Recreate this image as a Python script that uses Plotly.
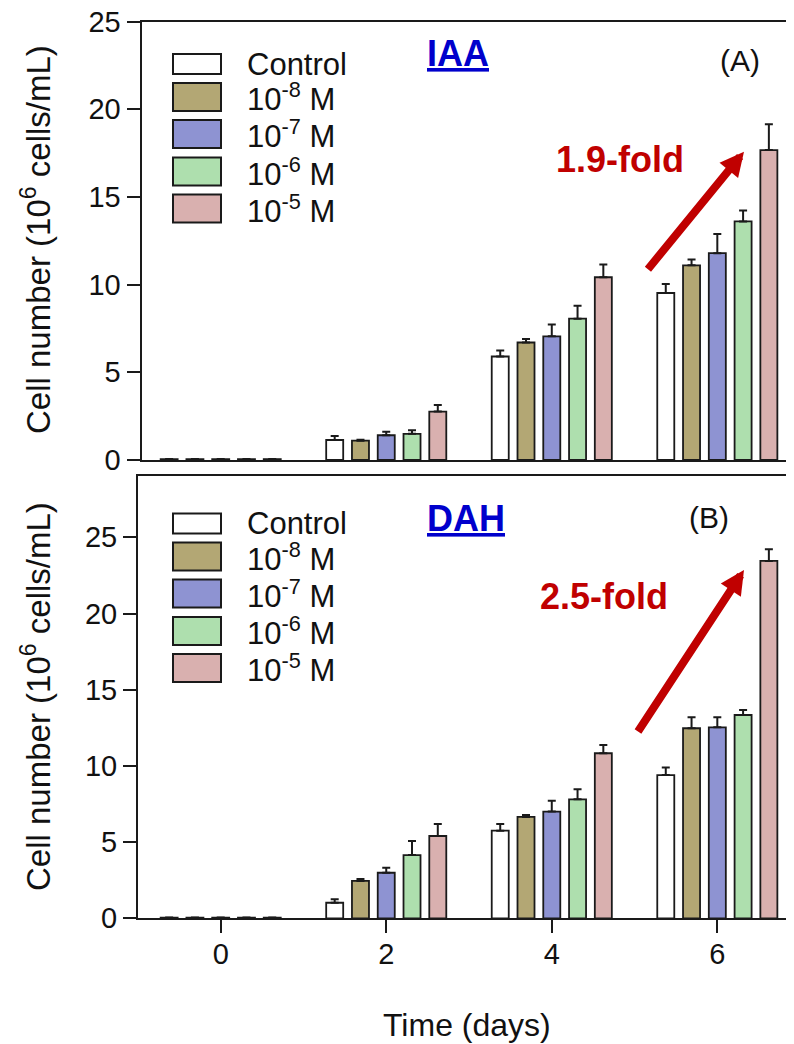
import plotly.graph_objects as go

# ---------------- data ----------------
days = [0, 2, 4, 6]
series_names = ["Control", "10<sup>-8</sup> M", "10<sup>-7</sup> M", "10<sup>-6</sup> M", "10<sup>-5</sup> M"]
colors = ["#FFFFFF", "#B3A774", "#8E93D2", "#AEDFAE", "#D9B0AF"]

# Panel A (IAA)
iaa_control = [0.05, 1.14, 5.90, 9.52]
iaa_m8 = [0.05, 1.10, 6.70, 11.10]
iaa_m7 = [0.05, 1.41, 7.05, 11.79]
iaa_m6 = [0.05, 1.49, 8.06, 13.60]
iaa_m5 = [0.05, 2.76, 10.42, 17.67]
iaa_control_err = [0, 0.23, 0.35, 0.51]
iaa_m8_err = [0, 0.05, 0.20, 0.33]
iaa_m7_err = [0, 0.20, 0.67, 1.10]
iaa_m6_err = [0, 0.21, 0.74, 0.63]
iaa_m5_err = [0, 0.38, 0.72, 1.47]

# Panel B (DAH)
dah_control = [0.05, 1.02, 5.75, 9.40]
dah_m8 = [0.05, 2.45, 6.65, 12.47]
dah_m7 = [0.05, 2.99, 7.00, 12.53]
dah_m6 = [0.05, 4.15, 7.81, 13.34]
dah_m5 = [0.05, 5.40, 10.83, 23.45]
dah_control_err = [0, 0.23, 0.44, 0.50]
dah_m8_err = [0, 0.13, 0.13, 0.72]
dah_m7_err = [0, 0.33, 0.72, 0.66]
dah_m6_err = [0, 0.92, 0.65, 0.33]
dah_m5_err = [0, 0.79, 0.54, 0.76]

y_ticks = [0, 5, 10, 15, 20, 25]
x_ticks = [0, 2, 4, 6]

iaa_vals = [iaa_control, iaa_m8, iaa_m7, iaa_m6, iaa_m5]
iaa_errs = [iaa_control_err, iaa_m8_err, iaa_m7_err, iaa_m6_err, iaa_m5_err]
dah_vals = [dah_control, dah_m8, dah_m7, dah_m6, dah_m5]
dah_errs = [dah_control_err, dah_m8_err, dah_m7_err, dah_m6_err, dah_m5_err]

# ---------------- layout geometry ----------------
# positions below are given in screen pixels; the page body adds an 8 px offset
W, H = 794, 1044
OFF = 8
L_SCREEN = 138
L = L_SCREEN - OFF          # figure left margin
PW = W - L                  # plot-area width (figure px)
RIGHT_SCREEN = W + OFF      # right edge of the plot area in screen px
FONT = "Arial, Liberation Sans, sans-serif"
LINE = "#1a1a1a"


def xp(px):
    return (px - OFF - L) / PW


def yp(py):
    return (H - (py - OFF)) / H


fig = go.Figure()

for vals, errs, xa, ya in [(iaa_vals, iaa_errs, "x2", "y2"), (dah_vals, dah_errs, "x", "y")]:
    for name, color, v, e in zip(series_names, colors, vals, errs):
        fig.add_trace(go.Bar(
            x=days, y=v, name=name, xaxis=xa, yaxis=ya, showlegend=False,
            marker=dict(color=color, line=dict(color=LINE, width=1.8)),
            error_y=dict(type="data", array=e, arrayminus=[0] * len(e), symmetric=False,
                         color=LINE, thickness=2, width=4),
        ))

# pixel calibration of the day axis (screen px): day 0 at 220.7 px, 82.77 px/day
x0px, kpx = 220.7, 82.77
bottom_range = [(L_SCREEN - x0px) / kpx, (RIGHT_SCREEN - x0px) / kpx]
top_left = 141.5
top_range = [(top_left - x0px) / kpx, (RIGHT_SCREEN - x0px) / kpx]

axis_common = dict(showline=True, linecolor=LINE, linewidth=2, showgrid=False, zeroline=False,
                   automargin=False, ticklabeloverflow="allow")
tickfont = dict(family=FONT, size=29, color="#111")

fig.update_layout(
    width=W, height=H,
    margin=dict(l=L, r=0, t=0, b=0, pad=0, autoexpand=False),
    paper_bgcolor="white", plot_bgcolor="white",
    barmode="group", bargap=0.2215, bargroupgap=0.34,
    font=dict(family=FONT, color="#111"),
    xaxis=dict(domain=[0, 1], range=bottom_range, tickvals=x_ticks, ticks="outside",
               ticklen=13, tickwidth=2, tickcolor=LINE, mirror=True, tickfont=tickfont,
               ticklabelstandoff=-4, anchor="y", **axis_common),
    yaxis=dict(domain=[yp(918.3), yp(476)], range=[0, (918.3 - 476) / 15.24], tickvals=y_ticks,
               ticks="outside", ticklen=13, tickwidth=2, tickcolor=LINE, tickfont=tickfont,
               anchor="x", **axis_common),
    xaxis2=dict(domain=[xp(top_left), 1], range=top_range, showticklabels=False, ticks="",
                mirror=True, anchor="y2", **axis_common),
    yaxis2=dict(domain=[yp(460), yp(21.5)], range=[0, 25], tickvals=y_ticks,
                ticks="outside", ticklen=13, tickwidth=2, tickcolor=LINE, tickfont=tickfont,
                anchor="x2", **axis_common),
)

annotations = []
shapes = []

# custom legends (large swatches)
row_centers = [64, 97, 134, 171.5, 208.5]
row_heights = [20, 28, 28, 28, 28]
for off in [0, 459.5]:
    for name, color, cy, hh in zip(series_names, colors, row_centers, row_heights):
        shapes.append(dict(type="rect", xref="paper", yref="paper",
                           x0=xp(173), x1=xp(221), y0=yp(cy + off + hh / 2), y1=yp(cy + off - hh / 2),
                           fillcolor=color, line=dict(color=LINE, width=2)))
        annotations.append(dict(text=name, xref="paper", yref="paper", x=xp(245), y=yp(cy + off),
                                xanchor="left", yanchor="middle", showarrow=False,
                                font=dict(family=FONT, size=31, color="#111")))

# panel titles
for txt, cx, cy in [("<u><b>IAA</b></u>", 458, 53), ("<u><b>DAH</b></u>", 466, 518)]:
    annotations.append(dict(text=txt, xref="paper", yref="paper", x=xp(cx), y=yp(cy),
                            xanchor="center", yanchor="middle", showarrow=False,
                            font=dict(family=FONT, size=36, color="#0000CC")))
for txt, cx, cy in [("(A)", 740, 61), ("(B)", 709, 517)]:
    annotations.append(dict(text=txt, xref="paper", yref="paper", x=xp(cx), y=yp(cy),
                            xanchor="center", yanchor="middle", showarrow=False,
                            font=dict(family=FONT, size=30, color="#111")))

# fold-change labels and arrows
for txt, cx, cy in [("<b>1.9-fold</b>", 620, 159), ("<b>2.5-fold</b>", 604, 596)]:
    annotations.append(dict(text=txt, xref="paper", yref="paper", x=xp(cx), y=yp(cy),
                            xanchor="center", yanchor="middle", showarrow=False,
                            font=dict(family=FONT, size=36, color="#C00000")))
for (tx, ty), (hx, hy) in [((646.7, 270.7), (744, 151.7)), ((637, 733), (744, 570))]:
    annotations.append(dict(text="", xref="paper", yref="paper", x=xp(hx), y=yp(hy),
                            ax=tx - hx, ay=ty - hy, showarrow=True, arrowhead=2,
                            arrowsize=0.6, arrowwidth=8, arrowcolor="#C00000", standoff=0))

# axis titles
ytitle = "Cell number (10<sup>6</sup> cells/mL)"
for cy in [240, 697]:
    annotations.append(dict(text=ytitle, xref="paper", yref="paper", x=xp(36), y=yp(cy),
                            xanchor="center", yanchor="middle", textangle=-90, showarrow=False,
                            font=dict(family=FONT, size=33, color="#111")))
annotations.append(dict(text="Time (days)", xref="paper", yref="paper", x=xp(467), y=yp(1025),
                        xanchor="center", yanchor="middle", showarrow=False,
                        font=dict(family=FONT, size=32, color="#111")))

fig.update_layout(annotations=annotations, shapes=shapes)

fig.write_html("out.html")
